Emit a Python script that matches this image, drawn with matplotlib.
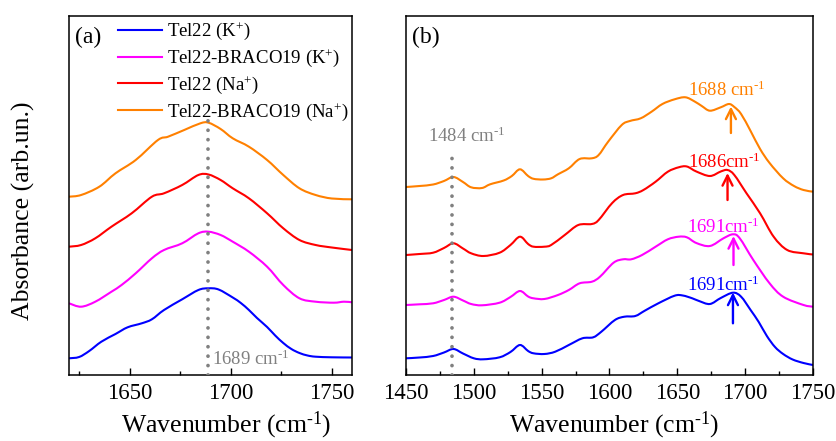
import matplotlib
matplotlib.use("Agg")
import numpy as np
import matplotlib.pyplot as plt
from matplotlib.ticker import MultipleLocator
from matplotlib.path import Path
from matplotlib.patches import PathPatch
from matplotlib.lines import Line2D

plt.rcParams['font.family'] = ['Liberation Serif', 'DejaVu Serif']
plt.rcParams['mathtext.fontset'] = 'custom'
plt.rcParams['mathtext.rm'] = 'Liberation Serif'
plt.rcParams['mathtext.it'] = 'Liberation Serif:italic'
plt.rcParams['mathtext.bf'] = 'Liberation Serif:bold'

# ---------------- data: panel (a) ----------------
xa_blue = [1620, 1625, 1630, 1636, 1643, 1649, 1656, 1661, 1667, 1676, 1684, 1689, 1694,
           1701, 1705, 1709, 1713, 1718, 1722, 1726, 1730, 1734, 1738, 1742, 1750, 1760]
ya_blue = [16.7, 18, 24, 33.3, 41, 47.7, 51.7, 55.7, 65, 75.7, 85, 86.7, 85.5,
           77.5, 72, 65, 57, 48, 39.5, 32, 26, 22, 19.5, 18.3, 17.7, 17.5]

xa_mag = [1620, 1626, 1633, 1641, 1646, 1653, 1661, 1667, 1676, 1684, 1689, 1695, 1701,
          1709, 1718, 1726, 1734, 1742, 1751, 1756, 1760]
ya_mag = [71.7, 68.3, 73.3, 83.3, 90, 101.7, 116.7, 125, 131.7, 141.7, 143.3, 140, 133.3,
          123.3, 108.3, 90, 76.7, 73.3, 72.3, 73.3, 72.7]

xa_red = [1620, 1626, 1633, 1641, 1651, 1661, 1667, 1676, 1684, 1689, 1695, 1701, 1709,
          1718, 1726, 1734, 1742, 1750, 1760]
ya_red = [128.3, 130, 136.7, 148.3, 161.7, 178.3, 181.7, 190, 200, 200.5, 195, 186.7, 176.7,
          161.7, 146.7, 135, 130, 127.5, 125]

xa_org = [1620, 1626, 1635, 1643, 1653, 1664, 1669, 1677, 1685, 1689, 1695, 1701, 1709,
          1718, 1726, 1734, 1742, 1750, 1760]
ya_org = [178.3, 180, 188.3, 201.7, 215, 235, 238.3, 245, 251.7, 252.3, 246, 236.7, 228.3,
          215, 200, 186.7, 180, 176.5, 175.7]

# ---------------- data: panel (b) ----------------
xb_blue = [1450, 1460, 1470, 1478, 1485, 1492, 1500, 1507, 1519, 1527, 1534, 1540, 1544,
           1552, 1560, 1570, 1580, 1588, 1594, 1604, 1611, 1619, 1626, 1636, 1648, 1654,
           1661, 1666, 1674, 1682, 1691, 1697, 1704, 1710, 1716, 1722, 1728, 1735, 1743, 1750]
yb_blue = [16.7, 17.5, 19, 22.5, 26, 21.5, 16.7, 15.7, 17.7, 23, 30, 24, 21.7,
           21, 23.3, 30, 36.7, 37.7, 43.3, 55, 58.3, 59, 64.3, 71.7, 79.3, 79.5,
           76.7, 74, 71, 77, 82.3, 78.3, 65, 53, 39, 28, 21, 15.5, 12, 10]

xb_mag = [1450, 1460, 1470, 1478, 1485, 1492, 1498, 1506, 1519, 1527, 1534, 1540, 1544,
          1552, 1562, 1570, 1578, 1587, 1593, 1603, 1610, 1616, 1624, 1634, 1643, 1651,
          1657, 1664, 1674, 1684, 1691, 1696, 1706, 1718, 1728, 1743, 1750]
yb_mag = [70, 70.7, 71.7, 75, 78.3, 74.5, 71, 69.7, 72.3, 78, 84, 78.5, 76.7,
          76, 80, 85, 91.7, 93.3, 98.3, 112.3, 115.7, 115.7, 120, 128.3, 135.7, 138.3,
          137.7, 132, 129, 136.7, 140.7, 136.7, 115, 91.7, 78.3, 70, 68.3]

xb_red = [1450, 1460, 1470, 1478, 1485, 1492, 1498, 1507, 1519, 1527, 1534, 1540, 1544,
          1552, 1557, 1567, 1577, 1587, 1592, 1602, 1610, 1619, 1625, 1634, 1643, 1651,
          1657, 1664, 1674, 1682, 1687, 1692, 1701, 1711, 1721, 1731, 1743, 1750]
yb_red = [120, 121, 122.3, 127, 131.7, 126.5, 121.7, 119, 122.3, 130, 138.3, 131, 128.3,
          128.3, 130, 140, 150, 151, 155, 172, 180, 181.7, 185, 193.3, 203.3, 207.7,
          208.5, 203.5, 199, 203.5, 205, 200, 181.7, 161.7, 138.3, 125, 121.7, 120.5]

xb_org = [1450, 1460, 1470, 1478, 1485, 1492, 1498, 1506, 1512, 1522, 1528, 1534, 1540,
          1544, 1551, 1557, 1562, 1570, 1578, 1587, 1592, 1599, 1609, 1615, 1623, 1631,
          1639, 1648, 1656, 1663, 1668, 1674, 1682, 1688, 1692, 1697, 1704, 1711, 1718,
          1728, 1736, 1743, 1750]
yb_org = [188, 189, 190.5, 194, 198, 193, 187.7, 187, 190.7, 194.5, 199, 205.7, 199,
          196.2, 195.5, 196.7, 200.7, 206.7, 216, 216.7, 220, 233.3, 250, 254, 256.7, 263.3,
          271, 275.7, 277.7, 273.3, 269, 264.3, 267.7, 271, 268, 261, 244, 226, 212,
          196.7, 189, 185, 183.3]

labels = ['Tel22 (K$^{+}$)', 'Tel22-BRACO19 (K$^{+}$)',
          'Tel22 (Na$^{+}$)', 'Tel22-BRACO19 (Na$^{+}$)']
colors = ['#0000FF', '#FF00FF', '#FF0000', '#FF8000']

peak_a = 1689
peak_b_marker = 1484
peak_labels_b = ['1691cm$^{\\text{-}1}$', '1691cm$^{\\text{-}1}$',
                 '1686cm$^{\\text{-}1}$', '1688 cm$^{\\text{-}1}$']
peak_pos_b = [1691, 1691.4, 1687, 1689.5]
arrow_tail_b = [51.7, 110, 175, 242]
arrow_tip_b = [82.5, 139, 202, 268.5]
text_xy_b = [(1657, 84), (1657, 142.3), (1658, 207), (1658, 279)]

GRAY = '#808080'


def smooth_path(x, y):
    """Smooth (Catmull-Rom style) Bezier path through the read data points."""
    pts = np.column_stack([x, y]).astype(float)
    n = len(pts)
    verts = [pts[0]]
    codes = [Path.MOVETO]
    for i in range(n - 1):
        p0 = pts[i - 1] if i > 0 else pts[i]
        p1 = pts[i]
        p2 = pts[i + 1]
        p3 = pts[i + 2] if i + 2 < n else pts[i + 1]
        c1 = p1 + (p2 - p0) / 6.0
        c2 = p2 - (p3 - p1) / 6.0
        verts += [c1, c2, p2]
        codes += [Path.CURVE4] * 3
    return Path(verts, codes)


fig = plt.figure(figsize=(8.36, 4.41), dpi=100)
axa = fig.add_axes([69/836, 1-375/441, (352-69)/836, (375-16)/441])
axb = fig.add_axes([406/836, 1-375/441, (813-406)/836, (375-16)/441])

lw = 1.5
series_a = [(xa_blue, ya_blue), (xa_mag, ya_mag), (xa_red, ya_red), (xa_org, ya_org)]
series_b = [(xb_blue, yb_blue), (xb_mag, yb_mag), (xb_red, yb_red), (xb_org, yb_org)]
for ax, series in ((axa, series_a), (axb, series_b)):
    for (x, y), c in zip(series, colors):
        ax.add_patch(PathPatch(smooth_path(x, y), fill=False, edgecolor=c, lw=lw,
                               joinstyle='round', capstyle='butt', transform=ax.transData))

dot_style = dict(color=GRAY, lw=2.7, linestyle=(0, (0.01, 2.5)), dash_capstyle='round', zorder=3)
axa.plot([peak_a, peak_a], [0, 255], **dot_style)
axa.text(1690.8, 10, '1689 cm$^{\\text{-}1}$', color=GRAY, fontsize=13.5, ha='left', va='baseline')

axb.plot([peak_b_marker, peak_b_marker], [0, 225], **dot_style)
axb.text(1466, 233, '1484 cm$^{\\text{-}1}$', color=GRAY, fontsize=13.5, ha='left', va='baseline')

for px, t0, t1, txt, (tx, ty), c in zip(peak_pos_b, arrow_tail_b, arrow_tip_b,
                                         peak_labels_b, text_xy_b, colors):
    axb.annotate('', xy=(px, t1), xytext=(px, t0),
                 arrowprops=dict(arrowstyle='->', color=c, lw=1.7,
                                 mutation_scale=18, shrinkA=0, shrinkB=0))
    axb.text(tx, ty, txt, color=c, fontsize=13.5, ha='left', va='baseline')

for ax in (axa, axb):
    ax.set_ylim(0, 359)
    ax.set_yticks([])
    ax.tick_params(axis='x', which='both', direction='in', labelsize=16.5, pad=6, width=1.0)
    ax.tick_params(axis='x', which='major', length=5)
    ax.tick_params(axis='x', which='minor', length=3)
    ax.xaxis.set_minor_locator(MultipleLocator(25))
    for s in ax.spines.values():
        s.set_linewidth(1.1)
    ax.set_xlabel('Wavenumber (cm$^{\\text{-}1}$)', fontsize=18.5)

axa.set_xlim(1620, 1760)
axa.xaxis.set_major_locator(MultipleLocator(50))
axb.set_xlim(1450, 1750)
axb.xaxis.set_major_locator(MultipleLocator(50))

axa.xaxis.set_label_coords(0.555, -0.096)
axb.xaxis.set_label_coords(0.512, -0.096)

axa.set_ylabel('Absorbance (arb.un.)', fontsize=18.5)
axa.yaxis.set_label_coords(-0.12, 0.457)

axa.text(0.021, 0.94, '(a)', transform=axa.transAxes, fontsize=17, ha='left', va='center')
axb.text(0.015, 0.94, '(b)', transform=axb.transAxes, fontsize=17, ha='left', va='center')

handles = [Line2D([], [], color=c, lw=lw) for c in colors]
axa.legend(handles, labels, loc='upper left', bbox_to_anchor=(0.173, 0.9875), frameon=False,
           fontsize=13.5, handlelength=2.35, handletextpad=0.27, labelspacing=0.27,
           borderpad=0, borderaxespad=0)

fig.savefig('out.png', dpi=100)
